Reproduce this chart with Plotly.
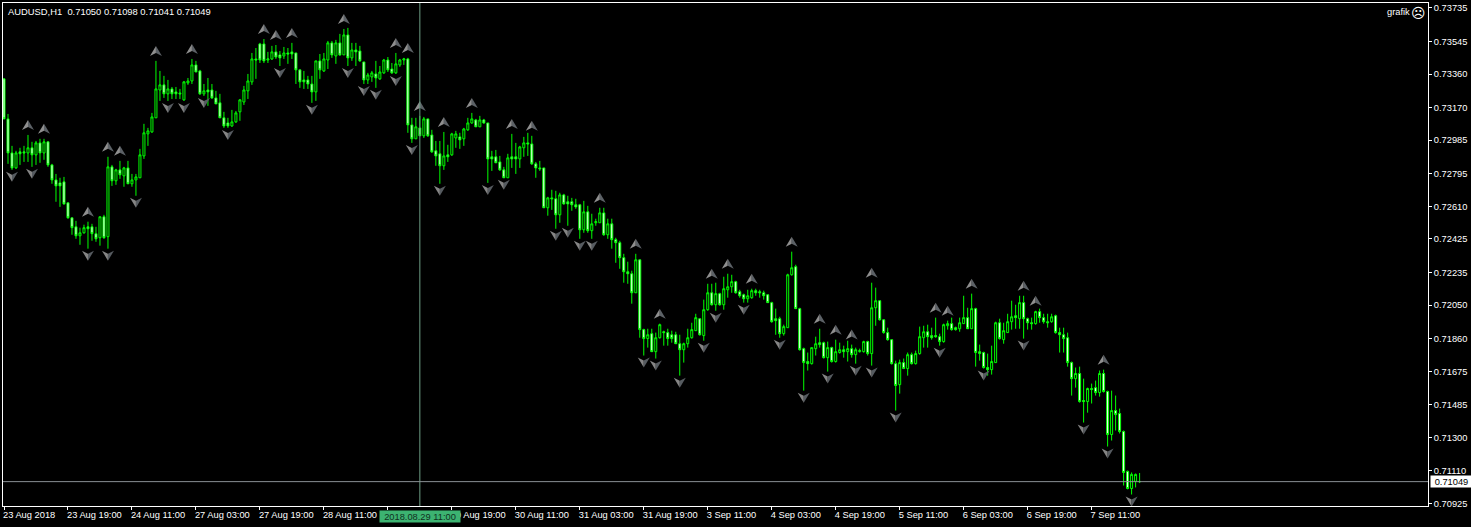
import plotly.graph_objects as go

# Quotes are written in 1e-5 units (points)
highs = [
73333,73134,72953,72925,72942,72953,73015,72976,72981,72993,
72993,72976,72851,72794,72772,72777,72630,72545,72528,72489,
72506,72523,72511,72494,72551,72562,72891,72845,72823,72868,
72834,72868,72794,72794,72936,73078,73055,73140,73435,73378,
73350,73327,73287,73287,73276,73321,73338,73446,73435,73384,
73304,73338,73304,73265,73248,73146,73112,73157,73151,73219,
73293,73361,73480,73508,73537,73559,73486,73520,73525,73491,
73514,73508,73537,73480,73384,73378,73350,73350,73435,73474,
73480,73548,73548,73554,73588,73616,73622,73537,73537,73520,
73429,73367,73378,73435,73406,73446,73457,73423,73480,73446,
73452,73452,73112,73112,73123,73117,73106,73044,72981,72981,
73032,72959,73027,73038,73027,73055,73112,73140,73106,73123,
73106,73083,72925,72930,72896,72834,72908,73021,72970,72953,
73004,73027,73010,72862,72868,72828,72664,72704,72698,72687,
72681,72670,72658,72653,72624,72641,72613,72568,72540,72602,
72602,72540,72540,72432,72415,72341,72296,72245,72341,72307,
71916,71916,71916,71894,71945,71905,71916,71905,71899,71882,
71837,71916,71950,72001,71973,72081,72171,72171,72177,72120,
72211,72228,72222,72188,72137,72115,72137,72143,72143,72137,
72132,72109,72069,72030,71984,71939,72228,72353,72279,72035,
71809,71781,71809,71871,71916,71843,71843,71814,71854,71837,
71820,71848,71826,71809,71803,71848,71848,72177,72149,72075,
71967,71922,71854,71735,71741,71747,71781,71781,71792,71928,
71933,71939,71922,71979,71888,71945,71962,71979,71928,71979,
72103,72035,72115,72035,71826,71786,71775,71820,71956,71973,
71950,72001,72075,72052,72103,72103,71979,71979,72018,72030,
72001,72001,72001,71996,71922,71922,71894,71730,71696,71701,
71633,71582,71605,71622,71679,71684,71565,71565,71537,71463,
71339,71112,71101,71095,71098]
body_top = [
73333,73106,72913,72913,72919,72919,72942,72942,72970,72970,
72976,72976,72845,72760,72743,72749,72630,72545,72494,72460,
72489,72494,72494,72455,72551,72551,72834,72834,72817,72817,
72828,72828,72760,72777,72902,73027,73038,73117,73276,73299,
73299,73276,73276,73259,73253,73316,73321,73412,73412,73378,
73265,73270,73270,73225,73197,73112,73083,73089,73140,73214,
73270,73321,73446,73446,73531,73531,73446,73486,73486,73469,
73480,73480,73486,73480,73384,73327,73327,73304,73435,73435,
73446,73537,73537,73537,73537,73582,73582,73497,73497,73491,
73429,73355,73367,73361,73372,73440,73440,73389,73418,73440,
73446,73446,73072,73061,73055,73106,73106,73015,72925,72908,
72896,72902,73021,73021,73004,73049,73083,73106,73100,73100,
73100,73083,72891,72891,72862,72817,72885,72891,72891,72947,
72970,72970,72964,72851,72828,72828,72658,72658,72653,72675,
72675,72636,72636,72619,72619,72579,72579,72511,72523,72573,
72573,72511,72511,72421,72404,72319,72239,72228,72307,72307,
71911,71882,71888,71865,71939,71899,71894,71882,71882,71831,
71831,71865,71911,71979,71973,72024,72120,72120,72115,72115,
72143,72154,72183,72183,72126,72109,72103,72132,72132,72126,
72120,72109,72064,71973,71973,71928,72222,72262,72268,72030,
71803,71730,71809,71831,71837,71837,71809,71809,71786,71797,
71797,71803,71803,71797,71792,71843,71843,72035,72075,72075,
71967,71894,71854,71718,71724,71724,71769,71769,71775,71871,
71899,71899,71877,71877,71871,71939,71945,71945,71922,71950,
71979,71979,72030,72030,71786,71781,71696,71730,71950,71950,
71905,71956,71984,71990,72064,72064,71973,71950,72013,72013,
71979,71956,71984,71990,71894,71882,71865,71724,71662,71662,
71509,71577,71577,71582,71662,71662,71560,71452,71452,71435,
71333,71107,71090,71090,71050]
body_bottom = [
73106,72913,72828,72828,72908,72913,72913,72902,72902,72913,
72913,72845,72760,72726,72726,72624,72545,72489,72443,72443,
72460,72483,72455,72426,72432,72432,72438,72755,72755,72789,
72783,72738,72738,72760,72772,72896,73021,73032,73112,73270,
73248,73248,73248,73248,73248,73214,73310,73321,73372,73248,
73248,73259,73225,73191,73112,73066,73066,73066,73089,73146,
73202,73265,73316,73440,73440,73435,73440,73446,73457,73452,
73463,73474,73474,73384,73316,73316,73304,73259,73259,73384,
73378,73440,73469,73463,73469,73469,73452,73452,73486,73435,
73327,73327,73344,73338,73333,73367,73384,73367,73367,73412,
73440,73072,72993,72993,73010,73010,73010,72919,72896,72840,
72840,72891,72902,72998,72987,72993,73044,73083,73061,73061,
73083,72879,72879,72857,72817,72772,72772,72879,72879,72879,
72942,72964,72851,72828,72823,72602,72602,72653,72562,72562,
72624,72624,72619,72607,72477,72477,72472,72472,72517,72517,
72449,72449,72421,72404,72319,72239,72228,72120,72120,71911,
71860,71860,71786,71786,71865,71894,71860,71860,71831,71797,
71797,71831,71865,71905,71882,71877,72024,72052,72052,72052,
72052,72137,72154,72120,72103,72086,72086,72092,72120,72120,
72103,72064,71956,71962,71888,71888,71922,72222,72030,71797,
71724,71718,71718,71803,71826,71752,71752,71730,71730,71781,
71786,71786,71769,71769,71786,71786,71775,71775,72035,71967,
71894,71854,71718,71594,71599,71690,71690,71718,71718,71775,
71865,71871,71865,71871,71843,71843,71933,71911,71911,71916,
71945,71916,71916,71781,71775,71696,71684,71684,71724,71860,
71854,71894,71956,71979,71973,71973,71950,71945,71945,71979,
71956,71950,71956,71894,71882,71860,71724,71633,71633,71503,
71503,71503,71571,71554,71554,71560,71316,71316,71429,71333,
71101,71010,71010,71050,71049]
lows = [
73106,72851,72817,72823,72845,72862,72862,72834,72845,72857,
72874,72834,72738,72636,72607,72619,72540,72449,72426,72392,
72455,72370,72415,72409,72387,72426,72370,72726,72732,72766,
72721,72738,72721,72670,72772,72879,72953,73027,73112,73208,
73225,73208,73219,73219,73219,73208,73299,73304,73372,73242,
73236,73180,73219,73191,73112,73055,73055,73061,73083,73095,
73185,73219,73299,73333,73423,73423,73423,73440,73446,73406,
73446,73418,73446,73304,73282,73276,73276,73197,73208,73333,
73372,73389,73452,73418,73463,73469,73406,73435,73406,73429,
73304,73304,73316,73282,73327,73361,73372,73361,73361,73401,
73412,73027,72970,72993,73010,72998,73004,72913,72840,72738,
72817,72862,72896,72942,72936,72953,73038,73078,73061,73061,
73078,72743,72811,72857,72811,72772,72772,72828,72794,72828,
72891,72896,72845,72772,72811,72602,72557,72590,72483,72517,
72619,72500,72585,72596,72426,72460,72460,72426,72500,72517,
72443,72426,72370,72290,72256,72177,72171,72058,72120,71865,
71764,71809,71786,71747,71860,71820,71820,71837,71831,71650,
71724,71809,71860,71905,71877,71848,72018,72047,72018,72047,
72024,72092,72120,72115,72092,72064,72064,72086,72103,72092,
72081,72064,71950,71882,71865,71877,71922,72217,72030,71792,
71565,71679,71713,71764,71809,71747,71673,71724,71724,71775,
71752,71730,71752,71718,71781,71781,71764,71707,71933,71962,
71888,71848,71713,71452,71548,71690,71650,71713,71713,71769,
71809,71809,71854,71865,71820,71837,71911,71905,71905,71899,
71945,71916,71916,71701,71735,71690,71650,71656,71724,71854,
71831,71894,71911,71916,71916,71860,71911,71911,71939,71950,
71945,71922,71950,71888,71781,71781,71701,71537,71582,71497,
71384,71440,71492,71537,71531,71554,71248,71282,71339,71322,
71027,71005,70976,71016,71041]
# u = up bar (black body), d = down bar (white body), ten bars per row
direction = (
"ddduddudud"
"uddddddddu"
"udddududud"
"uduuuuuuuu"
"duddduuudd"
"udddddduuu"
"uuuddduudd"
"udddddddud"
"uududududd"
"duuduudduu"
"uddududddd"
"uduuduuudu"
"dddddduddu"
"uddddduddu"
"ddddduduuu"
"duddddddud"
"duduuddddd"
"uuuuduudud"
"uuuddduudd"
"ddddduuudd"
"dduudd" "uduu"
"duduuuduud"
"ddddududuu"
"udddduuddu"
"ududddduud"
"uuududddud"
"ddudddddud"
"duddudd" "udd"
"dduud"
)

price_ticks = [73735,73545,73360,73170,72985,72795,72610,72425,72235,72050,71860,71675,71485,71300,71110,70925]
date_tick_bars = [0,16,32,48,64,80,96,112,128,144,160,176,192,208,224,240,256,272]
date_tick_text = ["23 Aug 2018","23 Aug 19:00","24 Aug 11:00","27 Aug 03:00","27 Aug 19:00","28 Aug 11:00",
                  "","29 Aug 19:00","30 Aug 11:00","31 Aug 03:00","31 Aug 19:00","3 Sep 11:00",
                  "4 Sep 03:00","4 Sep 19:00","5 Sep 11:00","6 Sep 03:00","6 Sep 19:00","7 Sep 11:00"]
fractal_up_bars = [6,10,21,26,29,38,47,65,68,72,85,98,101,104,110,117,127,132,149,158,164,177,181,187,197,204,208,212,217,233,236,242,255,258,275]
fractal_down_bars = [2,7,21,26,33,41,45,50,56,69,77,86,90,93,98,102,109,121,125,138,141,144,147,160,163,169,175,178,185,194,200,206,213,217,223,234,245,255,270,276,282]
crosshair_bar = 104
crosshair_text = "2018.08.29 11:00"
last_price = 71049
title_text = "AUDUSD,H1  0.71050 0.71098 0.71041 0.71049"

assert len(highs) == len(lows) == len(body_top) == len(body_bottom) == len(direction) == 285
opens = [(t if c == "d" else b) / 1e5 for t, b, c in zip(body_top, body_bottom, direction)]
closes = [(b if c == "d" else t) / 1e5 for t, b, c in zip(body_top, body_bottom, direction)]
bars = list(range(285))

GREEN = "#00ff00"
fig = go.Figure(go.Candlestick(
    x=bars, open=opens, high=[v / 1e5 for v in highs], low=[v / 1e5 for v in lows], close=closes,
    increasing=dict(line=dict(color=GREEN, width=1), fillcolor="#000000"),
    decreasing=dict(line=dict(color=GREEN, width=1), fillcolor="#ffffff"),
    whiskerwidth=0, hoverinfo="skip", showlegend=False,
))

shapes = []
def arrow(bar, price, left, right, lc, rc):
    shapes.append(dict(type="path", layer="above", xref="x", yref="y", xsizemode="pixel", ysizemode="pixel",
                       xanchor=bar, yanchor=price, path=left, fillcolor=lc, line=dict(width=0)))
    shapes.append(dict(type="path", layer="above", xref="x", yref="y", xsizemode="pixel", ysizemode="pixel",
                       xanchor=bar, yanchor=price, path=right, fillcolor=rc, line=dict(width=0)))
for b in fractal_up_bars:
    arrow(b, highs[b] / 1e5, "M -6 5 L 0 15 L 0 8 Z", "M 6 5 L 0 15 L 0 8 Z", "#8f8f8f", "#5c6166")
for b in fractal_down_bars:
    arrow(b, lows[b] / 1e5, "M -6 -2 L 0 -12 L 0 -5 Z", "M 6 -2 L 0 -12 L 0 -5 Z", "#858585", "#565b60")

shapes.append(dict(type="line", layer="above", xref="x", yref="paper", x0=crosshair_bar, x1=crosshair_bar, y0=0, y1=1,
                   line=dict(color="#6f9f87", width=1)))
shapes.append(dict(type="line", layer="above", xref="paper", yref="y", x0=0, x1=1, y0=last_price / 1e5, y1=last_price / 1e5,
                   line=dict(color="#8a8f94", width=1)))

FONT = "Liberation Sans"
annotations = [
    dict(text=title_text, xref="paper", yref="paper", x=0.0025, y=1.0, xanchor="left", yanchor="top", yshift=-2,
         showarrow=False, font=dict(family=FONT, size=9.4, color="#ffffff"), borderpad=0),
    dict(text="grafik", xref="paper", yref="paper", x=0.9705, y=1.0, xanchor="left", yanchor="top", yshift=-3,
         showarrow=False, font=dict(family=FONT, size=9.3, color="#ffffff"), borderpad=0),
    dict(text="\u2639", xref="paper", yref="paper", x=0.993, y=1.0, xanchor="center", yanchor="top", yshift=-1,
         showarrow=False, font=dict(family="DejaVu Sans", size=14, color="#ffffff"), borderpad=0),
    dict(text=crosshair_text, xref="x", yref="paper", x=crosshair_bar, y=0, yanchor="top", yshift=-4,
         width=80, height=11, align="center",
         showarrow=False, bgcolor="#3cb371", font=dict(family=FONT, size=9.3, color="#10301f"), borderpad=0),
    dict(text=f"{last_price/1e5:.5f}", xref="paper", yref="y", x=1.0, y=last_price / 1e5, xanchor="left", xshift=1.5,
         width=41, height=11, align="center",
         showarrow=False, bgcolor="#ffffff", font=dict(family=FONT, size=9.3, color="#000000"), borderpad=0),
]

tick_font = dict(family=FONT, size=9.3, color="#ffffff")
fig.update_layout(
    width=1471, height=527, autosize=False,
    margin=dict(l=2.5, r=43, t=2.5, b=21, pad=0),
    paper_bgcolor="#000000", plot_bgcolor="#000000",
    boxmode="overlay", boxgap=0.5, boxgroupgap=0, showlegend=False, shapes=shapes, annotations=annotations,
    xaxis=dict(range=[-0.25, 356.125], rangeslider=dict(visible=False), showgrid=False, zeroline=False,
               automargin=False, tickangle=0,
               tickmode="array", tickvals=date_tick_bars, ticktext=date_tick_text, ticklabelshift=-2,
               ticks="outside", ticklen=3, tickcolor="#ffffff", tickfont=tick_font, ticklabelposition="outside right",
               showline=True, linecolor="#ffffff", linewidth=1, mirror=True),
    yaxis=dict(range=[0.709108, 0.737632], side="right", showgrid=False, zeroline=False,
               automargin=False,
               tickmode="array", tickvals=[v / 1e5 for v in price_ticks], ticktext=[f"{v/1e5:.5f}" for v in price_ticks],
               ticks="outside", ticklen=3, tickcolor="#ffffff", tickfont=tick_font,
               showline=True, linecolor="#ffffff", linewidth=1, mirror=True),
)
fig.write_html("out.html", config=dict(displayModeBar=False),
               post_script="document.body.style.margin='0';document.documentElement.style.overflow='hidden';document.body.style.background='#000';window.dispatchEvent(new Event('resize'));")
